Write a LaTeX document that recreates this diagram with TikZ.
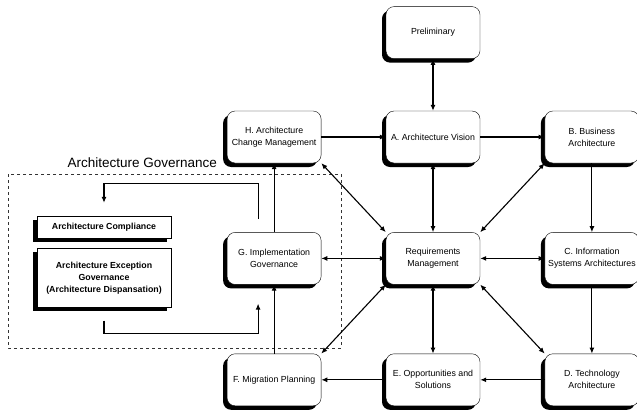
\documentclass[tikz,border=0pt]{standalone}
\usepackage{fontspec}
\setmainfont{Liberation Sans}
\usetikzlibrary{positioning,shadows,arrows.meta}
\tikzset{phase node/.style={rectangle,rounded corners=8pt,draw,fill=white,thin,minimum width=94pt,minimum height=52pt,inner sep=1pt,align=center,font=\fontsize{8.8}{12}\selectfont,general shadow={fill=black,shadow xshift=-4pt,shadow yshift=-4pt}},
gov node/.style={rectangle,draw,fill=white,thin,minimum width=134pt,inner sep=1pt,align=center,font=\fontsize{8.8}{12}\selectfont\bfseries,general shadow={fill=black,shadow xshift=-4pt,shadow yshift=-4pt}},
flow/.style={-{Latex[length=6pt,width=5pt]},line width=1.1pt},
both/.style={{Latex[length=6pt,width=5pt]}-{Latex[length=6pt,width=5pt]}},
}

\begin{document}
\begin{tikzpicture}[x=1pt,y=1pt,node distance = 69pt and 64.5pt]
	\useasboundingbox (0,0) rectangle (637,-413);
	% the ADM cycle
	\node[phase node] (A) at (433,-137) {A. Architecture Vision};
	\node[phase node] (P) [above = 52pt of A] {Preliminary};
	\node[phase node] (H) [left = of A] {H. Architecture\\Change Management};
	\node[phase node] (B) [right = of A] {B. Business\\Architecture};
	\node[phase node] (R) [below = of A] {Requirements\\Management};
	\node[phase node] (G) [left = of R] {G. Implementation\\Governance};
	\node[phase node] (C) [right = of R] {C. Information\\Systems Architectures};
	\node[phase node] (E) [below = of R] {E. Opportunities and\\Solutions};
	\node[phase node] (F) [left = of E] {F. Migration Planning};
	\node[phase node] (D) [right = of E] {D. Technology\\Architecture};
	
	% governance
	\draw[dashed,thin,black!80] (8,-174) rectangle (341,-348);
	\node[anchor=base west,font=\fontsize{13.5}{16}\selectfont] (title) at (64,-167) {Architecture Governance};
	\node[gov node,minimum height=22pt] (AC) at (104,-227) {Architecture Compliance};
	\node[gov node,minimum height=59pt] (AE) [below = 10pt of AC] {Architecture Exception\\Governance\\(Architecture Dispansation)};
	
	\path[flow]
	(H) edge (A)
	(A) edge (B)
	(B) edge (C)
	(C) edge (D)
	(D) edge (E)
	(E) edge (F)
	(F) edge (G)
	(G) edge (H)
	(P) edge[both] (A)
	(A) edge[both] (R)
	(R) edge[both] (C)
	(R) edge[both] (E)
	(R) edge[both] (G)
	(H.south east) edge[both] (R.north west)
	(R.north east) edge[both] (B.south west)
	(R.south east) edge[both] (D.north west)
	(R.south west) edge[both] (F.north east);
	
	\draw[flow] ([xshift=-16pt,yshift=13pt]G.north) |- ([yshift=32pt]AC.north) -- ([yshift=13pt]AC.north);
	\draw[flow] ([yshift=-13pt]AE.south) -- ([yshift=-26pt]AE.south) -| ([xshift=-16pt,yshift=-19pt]G.south);
\end{tikzpicture}
\end{document}
